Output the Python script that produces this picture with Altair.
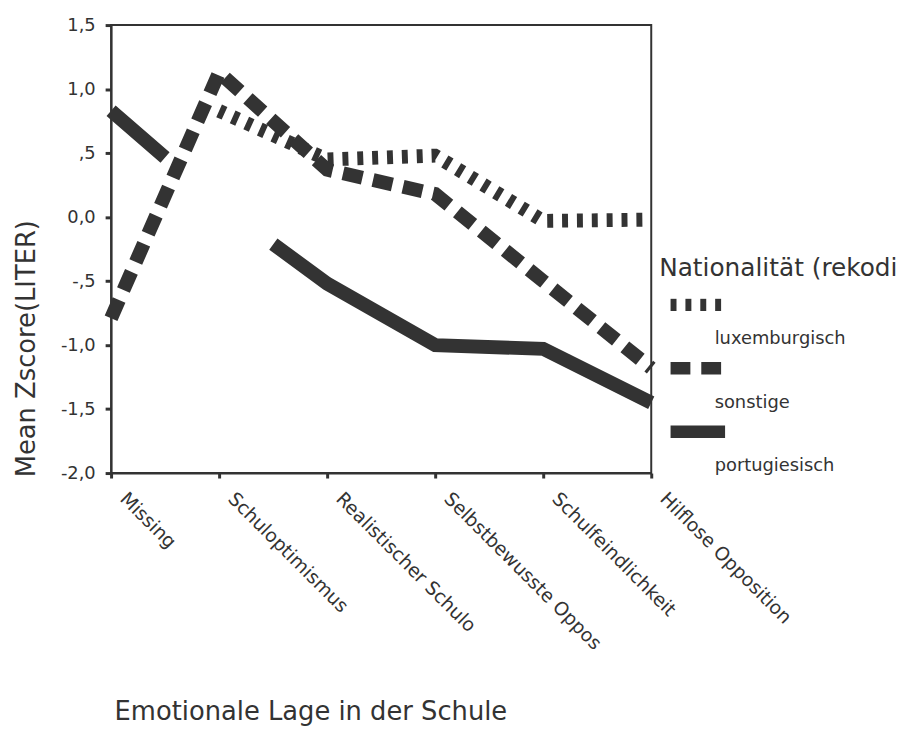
import altair as alt
import pandas as pd

# ---- data ----
categories = ["Missing", "Schuloptimismus", "Realistischer Schulo",
              "Selbstbewusste Oppos", "Schulfeindlichkeit", "Hilflose Opposition"]
series = ["luxemburgisch", "sonstige", "portugiesisch"]
luxemburgisch = [None, 0.83, 0.45, 0.48, -0.03, -0.02]
sonstige = [-0.79, 1.13, 0.37, 0.18, -0.50, -1.18]
portugiesisch = [0.83, 0.10, -0.52, -1.00, -1.03, -1.45]
y_ticks = [1.5, 1.0, 0.5, 0.0, -0.5, -1.0, -1.5, -2.0]
y_tick_labels = ["1,5", "1,0", ",5", "0,0", "-,5", "-1,0", "-1,5", "-2,0"]

rows = []
for name, vals in zip(series, [luxemburgisch, sonstige, portugiesisch]):
    for i, (c, v) in enumerate(zip(categories, vals)):
        if v is not None:
            rows.append({"Kategorie": c, "order": i, "Nationalitaet": name, "Wert": v})
df = pd.DataFrame(rows)

INK = "#333333"
FONT = "DejaVu Sans"

label_expr = " : ".join(
    f"datum.value == {v} ? '{lab}'" for v, lab in zip(y_ticks, y_tick_labels)
) + " : ''"

chart = alt.Chart(df).mark_line(
    color=INK, strokeWidth=14, strokeCap="butt", strokeJoin="miter"
).encode(
    x=alt.X("Kategorie:N", sort=categories,
            scale=alt.Scale(type="point", padding=0),
            axis=alt.Axis(
                title="Emotionale Lage in der Schule",
                titleFont=FONT, titleFontSize=26, titleFontWeight="normal",
                titleColor=INK, titleAnchor="start", titleAlign="left",
                titleX=3, titleY=249, titleBaseline="alphabetic",
                labelAngle=45, labelAlign="left", labelBaseline="top",
                labelFont=FONT, labelFontSize=19, labelColor=INK,
                labelPadding=11, labelOffset=18, labelLimit=400, labelOverlap=False,
                tickSize=5, tickWidth=3, tickColor=INK,
                domainColor=INK, domainWidth=2, grid=False)),
    y=alt.Y("Wert:Q",
            scale=alt.Scale(domain=[-2.0, 1.5], nice=False, zero=False),
            axis=alt.Axis(
                title="Mean Zscore(LITER)",
                titleFont=FONT, titleFontSize=26, titleFontWeight="normal",
                titleColor=INK, titleX=-85, titleY=326,
                titleAlign="center", titleBaseline="middle", titleAngle=270,
                values=y_ticks, labelExpr=label_expr,
                labelFont=FONT, labelFontSize=18, labelColor=INK,
                labelPadding=10,
                tickSize=6, tickWidth=3, tickColor=INK,
                domainColor=INK, domainWidth=2, grid=False)),
    strokeDash=alt.StrokeDash(
        "Nationalitaet:N",
        scale=alt.Scale(domain=series, range=[[6, 9], [20, 11], [72, 140, 5000]]),
        legend=alt.Legend(
            title="Nationalität (rekodi",
            orient="none", legendX=553, legendY=233,
            titleFont=FONT, titleFontSize=25, titleFontWeight="normal",
            titleColor=INK, titlePadding=18, titleLimit=400,
            labelFont=FONT, labelFontSize=18, labelColor=INK,
            labelBaseline="top", labelOffset=13, labelLimit=400,
            symbolType="M-0.667,-1.733L3,-1.733", symbolSize=900, symbolStrokeWidth=13,
            symbolStrokeColor=INK, clipHeight=64, rowPadding=0, padding=0)),
    detail="Nationalitaet:N",
    order="order:Q",
).properties(
    width=545, height=452,
    autosize=alt.AutoSizeParams(type="none"),
    padding={"left": 104, "top": 14, "right": 252, "bottom": 255},
).configure(
    background="white"
).configure_view(
    stroke=INK, strokeWidth=2
)

chart.save("out.html", embed_options={"renderer": "svg", "actions": False})
